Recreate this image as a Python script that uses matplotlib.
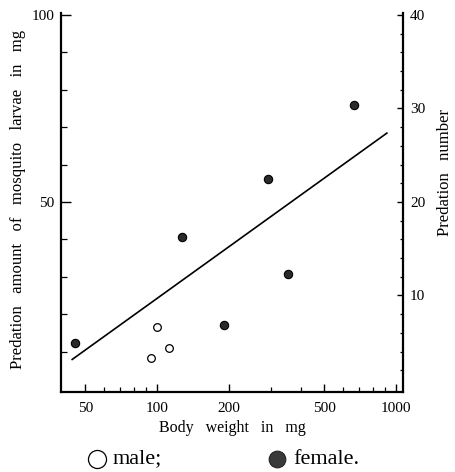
import matplotlib
matplotlib.use("Agg")
import matplotlib.pyplot as plt
from matplotlib.lines import Line2D
from matplotlib.ticker import FixedLocator, NullFormatter, FixedFormatter

plt.rcParams['font.family'] = ['Liberation Serif', 'DejaVu Serif']

# Data
male_weight = [94, 100, 112]
male_amount = [8.2, 16.5, 11.0]
female_weight = [45, 127, 190, 290, 354, 667]
female_amount = [12.4, 40.6, 17.2, 56.0, 30.7, 75.9]
line_weight = [44, 916]
line_amount = [7.9, 68.4]

x_major = [50, 100, 200, 500, 1000]
x_major_labels = ["50", "100", "200", "500", "1000"]
x_minor = [60, 70, 80, 90, 300, 400, 600, 700, 800, 900]
left_major = [50, 100]
left_minor = [10, 20, 30, 40, 60, 70, 80, 90]
right_major = [10, 20, 30, 40]
right_minor = [2, 4, 6, 8, 12, 14, 16, 18, 22, 24, 26, 28, 32, 34, 36, 38]

W, H = 456, 472
fig = plt.figure(figsize=(W / 100, H / 100), dpi=100)
ax = fig.add_axes([61 / W, 1 - 392 / H, (403 - 61) / W, (392 - 13) / H])

ax.plot(line_weight, line_amount, color='black', lw=1.2, zorder=2)
ax.plot(female_weight, female_amount, 'o', ms=6, mfc='#2a2a2a', mec='black', mew=0.8, zorder=3)
ax.plot(male_weight, male_amount, 'o', ms=5.5, mfc='white', mec='black', mew=0.9, zorder=3)

ax.set_xscale('log')
ax.set_xlim(39.5, 1070)
ax.set_ylim(-0.8, 100.5)

ax.xaxis.set_major_locator(FixedLocator(x_major))
ax.xaxis.set_major_formatter(FixedFormatter(x_major_labels))
ax.xaxis.set_minor_locator(FixedLocator(x_minor))
ax.xaxis.set_minor_formatter(NullFormatter())
ax.yaxis.set_major_locator(FixedLocator(left_major))
ax.yaxis.set_minor_locator(FixedLocator(left_minor))

ax.tick_params(axis='both', which='major', direction='in', width=1.0, labelsize=11, pad=5)
ax.tick_params(axis='x', which='major', length=6, pad=7)
ax.tick_params(axis='y', which='major', length=7)
ax.tick_params(axis='both', which='minor', direction='in', width=0.9, length=3.5)
ax.tick_params(axis='y', which='minor', length=4)

for s in ['left', 'bottom']:
    ax.spines[s].set_linewidth(1.6)
ax.spines['top'].set_visible(False)
ax.spines['right'].set_visible(False)

ax2 = ax.twinx()
ax2.set_ylim(-0.8 * 0.4, 100.5 * 0.4)
ax2.yaxis.set_major_locator(FixedLocator(right_major))
ax2.yaxis.set_minor_locator(FixedLocator(right_minor))
ax2.tick_params(axis='y', which='major', direction='in', length=4, width=1.0, labelsize=11, pad=5)
ax2.tick_params(axis='y', which='minor', direction='in', length=2.5, width=0.9)
ax2.spines['right'].set_linewidth(1.6)
ax2.spines['top'].set_visible(False)
ax2.spines['left'].set_visible(False)
ax2.spines['bottom'].set_visible(False)

fig.text(18 / W, 1 - 199 / H, "Predation   amount   of   mosquito   larvae   in   mg",
         rotation=90, ha='center', va='center', fontsize=12)
fig.text(445 / W, 1 - 173 / H, "Predation   number",
         rotation=90, ha='center', va='center', fontsize=12)
fig.text(232 / W, 1 - 428 / H, "Body   weight   in   mg",
         ha='center', va='center', fontsize=11.5)

# Legend below the chart
fig.add_artist(Line2D([97.5 / W], [1 - 459 / H], marker='o', ms=13, mfc='white',
                      mec='black', mew=0.9, transform=fig.transFigure))
fig.text(113 / W, 1 - 459 / H, "male;", ha='left', va='center', fontsize=16)
fig.add_artist(Line2D([277 / W], [1 - 459 / H], marker='o', ms=12, mfc='#3a3a3a',
                      mec='#222222', mew=0.8, transform=fig.transFigure))
fig.text(293 / W, 1 - 459 / H, "female.", ha='left', va='center', fontsize=16)

fig.savefig("out.png", dpi=100)
